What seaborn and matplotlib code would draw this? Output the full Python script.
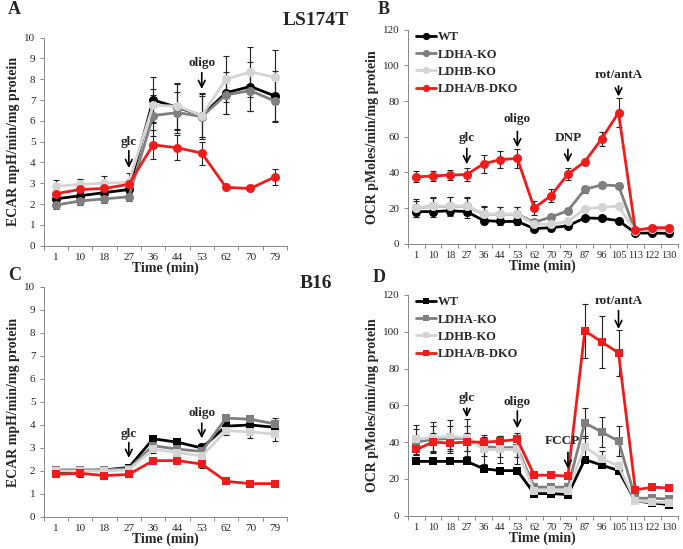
import numpy as np
import pandas as pd
import matplotlib
matplotlib.use("Agg")
import matplotlib.pyplot as plt
import seaborn as sns

# time points
timeEcar = ["1", "10", "18", "27", "36", "44", "53", "62", "70", "79"]
timeOcr = ["1", "10", "18", "27", "36", "44", "53", "62", "70", "79", "87", "96", "105", "113", "122", "130"]

groups = ["WT", "LDHA-KO", "LDHB-KO", "LDHA/B-DKO"]
colors = {"WT": "#000000", "LDHA-KO": "#7f7f7f", "LDHB-KO": "#d4d4d4", "LDHA/B-DKO": "#ee1c1c"}

# panel A - LS174T ECAR
ecarLsWT = [2.25, 2.4, 2.55, 2.7, 7.0, 6.65, 6.25, 7.35, 7.65, 7.2]
ecarLsA = [1.95, 2.15, 2.25, 2.35, 6.25, 6.4, 6.2, 7.25, 7.45, 6.95]
ecarLsB = [2.85, 2.95, 3.0, 3.05, 6.75, 6.7, 6.25, 8.0, 8.35, 8.1]
ecarLsDKO = [2.5, 2.7, 2.75, 2.95, 4.85, 4.7, 4.45, 2.8, 2.75, 3.3]
ecarLsWTerr = [0.2, 0.2, 0.2, 0.3, 1.1, 1.1, 1.05, 1.0, 1.2, 1.2]
ecarLsAerr = [0.2, 0.2, 0.2, 0.2, 1.0, 1.0, 1.0, 0.9, 1.0, 1.0]
ecarLsBerr = [0.3, 0.25, 0.35, 0.45, 0.8, 1.1, 1.1, 1.1, 1.2, 1.3]
ecarLsDKOerr = [0.1, 0.1, 0.1, 0.1, 0.7, 0.6, 0.55, 0.1, 0.1, 0.4]

# panel B - LS174T OCR
ocrLsWT = [18, 18, 18.5, 18, 13, 12.5, 12.5, 8.5, 9, 10, 14.5, 14.2, 13, 6, 6, 5.8]
ocrLsA = [20, 21, 21, 21, 16.5, 16.5, 16.5, 12, 15, 18.5, 30.5, 33, 32.5, 7, 8, 8]
ocrLsB = [20, 21, 21, 21, 16.5, 16.5, 16.5, 11, 11, 12.5, 19.5, 20.5, 21, 7, 8, 8]
ocrLsDKO = [37.5, 38, 38.5, 38.8, 44.8, 47.2, 47.8, 20, 27, 39, 46, 58.8, 73.5, 7.5, 9, 9]
ocrLsWTerr = [3, 3, 3, 3.5, 2, 2, 2, 1, 1, 1, 1, 1, 1, 0.5, 0.5, 0.5]
ocrLsAerr = [4, 4.5, 5, 4.5, 4, 4, 4, 1, 1.5, 1.5, 2, 1.5, 1.5, 0.5, 0.5, 0.5]
ocrLsBerr = [5, 5, 5, 5, 4.5, 4, 4, 1, 1, 1, 1, 1, 1, 0.5, 0.5, 0.5]
ocrLsDKOerr = [3, 3, 3, 3.5, 5, 5, 5.5, 4, 3.5, 3.5, 1, 4, 8, 1, 1.5, 1.5]

# panel C - B16 ECAR
ecarBWT = [1.95, 2.0, 2.05, 2.15, 3.4, 3.25, 3.0, 3.95, 4.0, 3.9]
ecarBA = [2.05, 2.05, 2.05, 2.1, 3.1, 2.95, 2.85, 4.3, 4.25, 4.05]
ecarBB = [2.0, 2.0, 2.0, 2.05, 2.95, 2.8, 2.65, 3.75, 3.7, 3.6]
ecarBDKO = [1.85, 1.9, 1.8, 1.85, 2.45, 2.45, 2.3, 1.55, 1.45, 1.45]
ecarBWTerr = [0.1, 0.1, 0.1, 0.1, 0.1, 0.15, 0.2, 0.2, 0.2, 0.2]
ecarBAerr = [0.1, 0.1, 0.1, 0.1, 0.15, 0.15, 0.15, 0.15, 0.2, 0.25]
ecarBBerr = [0.1, 0.1, 0.1, 0.1, 0.15, 0.15, 0.15, 0.2, 0.25, 0.3]
ecarBDKOerr = [0.1, 0.15, 0.15, 0.1, 0.1, 0.1, 0.15, 0.05, 0.05, 0.05]

# panel D - B16 OCR
ocrBWT = [29.5, 29.5, 29.5, 29.5, 25.5, 24.5, 24.5, 12, 12, 11.5, 30.5, 27.5, 24.5, 8, 7, 6]
ocrBA = [40, 41.5, 42, 42, 37.5, 37, 37, 15.5, 15.5, 15.5, 50.5, 45.5, 40.5, 9.5, 9.5, 9]
ocrBB = [41.5, 42.5, 43, 42.5, 36, 36, 36, 13.5, 14, 13.5, 37.5, 31, 27, 8, 7.5, 7]
ocrBDKO = [36, 40, 39.5, 40, 40, 40.5, 41.5, 22, 22, 21.5, 100.5, 94.5, 88.5, 14, 15.5, 15]
ocrBWTerr = [1, 1, 1, 1, 1, 1, 1, 1, 1, 1, 1, 1, 1, 1, 1, 1]
ocrBAerr = [7, 7, 7, 7, 5, 5, 5, 2, 2, 2, 8, 8, 8, 1, 1, 1]
ocrBBerr = [8, 8.5, 9, 10, 8, 7.5, 8, 2, 2, 2, 6, 4, 2, 1, 1, 1]
ocrBDKOerr = [3, 5, 3, 5, 3, 3, 3.5, 1, 1, 1, 14.5, 14, 12.5, 1, 1, 1]

sns.set_style("white")
plt.rcParams["font.family"] = ["Liberation Serif", "DejaVu Serif"]

fig = plt.figure(figsize=(6.83, 5.49), dpi=100)
axA = fig.add_axes([0.064, 0.5525, 0.356, 0.379])
axB = fig.add_axes([0.597, 0.556, 0.395, 0.390])
axC = fig.add_axes([0.064, 0.0583, 0.356, 0.419])
axD = fig.add_axes([0.597, 0.0607, 0.395, 0.402])


def drawPanel(ax, times, series, errs, marker, msize, ymax, ystep, ylabel, legend, tsize):
    n = len(times)
    rows = []
    for g, vals in zip(groups, series):
        for i, v in enumerate(vals):
            rows.append({"pos": i, "value": v, "group": g})
    df = pd.DataFrame(rows)
    # error bars first so the lines sit on top
    for g, vals, e in zip(groups, series, errs):
        ax.errorbar(np.arange(n), vals, yerr=e, fmt="none", ecolor="#222222",
                    elinewidth=0.8, capsize=2, capthick=0.8, zorder=1)
    sns.lineplot(data=df, x="pos", y="value", hue="group", hue_order=groups,
                 palette=colors, marker=marker, markersize=msize, markeredgewidth=0,
                 linewidth=2, ax=ax, legend=legend, zorder=3)
    ax.set_xlim(-0.5, n - 0.5)
    ax.set_ylim(0, ymax)
    ax.set_yticks(np.arange(0, ymax + 0.01, ystep))
    ax.set_xticks(np.arange(n))
    ax.set_xticklabels(times)
    ax.set_xticks(np.arange(n + 1) - 0.5, minor=True)
    ax.tick_params(axis="x", which="major", length=0, labelsize=tsize, pad=5)
    ax.tick_params(axis="x", which="minor", length=3, width=0.6, color="#777777", direction="out", bottom=True)
    ax.tick_params(axis="y", length=3, width=0.6, color="#777777", direction="out", left=True, labelsize=8, pad=3)
    for s in ["top", "right"]:
        ax.spines[s].set_visible(False)
    for s in ["left", "bottom"]:
        ax.spines[s].set_color("#888888")
        ax.spines[s].set_linewidth(0.7)
    ax.set_xlabel("Time (min)", fontsize=10, fontweight="bold", labelpad=0)
    ax.set_ylabel(ylabel, fontsize=10, fontweight="bold", labelpad=3)
    if legend:
        ax.legend(loc="upper left", bbox_to_anchor=(-0.01, 1.045), frameon=False,
                  handlelength=1.6, handletextpad=0.15, labelspacing=0.42, markerscale=0.8,
                  prop={"family": "Liberation Serif", "weight": "bold", "size": 9})


def arrowLabel(ax, x, text, ytext, ytop, ybot, dx=0.0):
    ax.annotate("", xy=(x, ybot), xytext=(x, ytop),
                arrowprops=dict(arrowstyle="->", color="black", lw=1.2, mutation_scale=12), zorder=5)
    ax.text(x + dx, ytext, text, ha="center", va="center", fontsize=9.5, fontweight="bold", zorder=6)


drawPanel(axA, timeEcar, [ecarLsWT, ecarLsA, ecarLsB, ecarLsDKO],
          [ecarLsWTerr, ecarLsAerr, ecarLsBerr, ecarLsDKOerr], "o", 6.5, 10, 1,
          "ECAR mpH/min/mg protein", False, 8)
drawPanel(axB, timeOcr, [ocrLsWT, ocrLsA, ocrLsB, ocrLsDKO],
          [ocrLsWTerr, ocrLsAerr, ocrLsBerr, ocrLsDKOerr], "o", 6.5, 120, 20,
          "OCR pMoles/min/mg protein", True, 7.5)
drawPanel(axC, timeEcar, [ecarBWT, ecarBA, ecarBB, ecarBDKO],
          [ecarBWTerr, ecarBAerr, ecarBBerr, ecarBDKOerr], "s", 5.5, 10, 1,
          "ECAR mpH/min/mg protein", False, 8)
drawPanel(axD, timeOcr, [ocrBWT, ocrBA, ocrBB, ocrBDKO],
          [ocrBWTerr, ocrBAerr, ocrBBerr, ocrBDKOerr], "s", 5.5, 120, 20,
          "OCR pMoles/min/mg protein", True, 7.5)

arrowLabel(axA, 3, "glc", 5.0, 4.7, 3.6)
arrowLabel(axA, 6, "oligo", 8.8, 8.45, 7.4)
arrowLabel(axB, 3, "glc", 59, 55, 43)
arrowLabel(axB, 6, "oligo", 70, 64.5, 52.5)
arrowLabel(axB, 9, "DNP", 59.5, 54.5, 44)
arrowLabel(axB, 12, "rot/antA", 94.5, 90, 81)
arrowLabel(axC, 3, "glc", 3.6, 3.35, 2.45)
arrowLabel(axC, 6, "oligo", 4.5, 4.2, 3.3)
arrowLabel(axD, 3, "glc", 64, 60, 52)
arrowLabel(axD, 6, "oligo", 62, 58.5, 46)
arrowLabel(axD, 9, "FCCP", 40.5, 36, 24, dx=-0.35)
arrowLabel(axD, 12, "rot/antA", 116.5, 113, 100)

fig.text(0.012, 0.982, "A", fontsize=13, fontweight="bold", va="center")
fig.text(0.553, 0.982, "B", fontsize=13, fontweight="bold", va="center")
fig.text(0.012, 0.499, "C", fontsize=13, fontweight="bold", va="center")
fig.text(0.546, 0.495, "D", fontsize=13, fontweight="bold", va="center")
fig.text(0.462, 0.963, "LS174T", fontsize=14, fontweight="bold", ha="center", va="center")
fig.text(0.462, 0.483, "B16", fontsize=14, fontweight="bold", ha="center", va="center")

fig.savefig("out.png", dpi=100)
